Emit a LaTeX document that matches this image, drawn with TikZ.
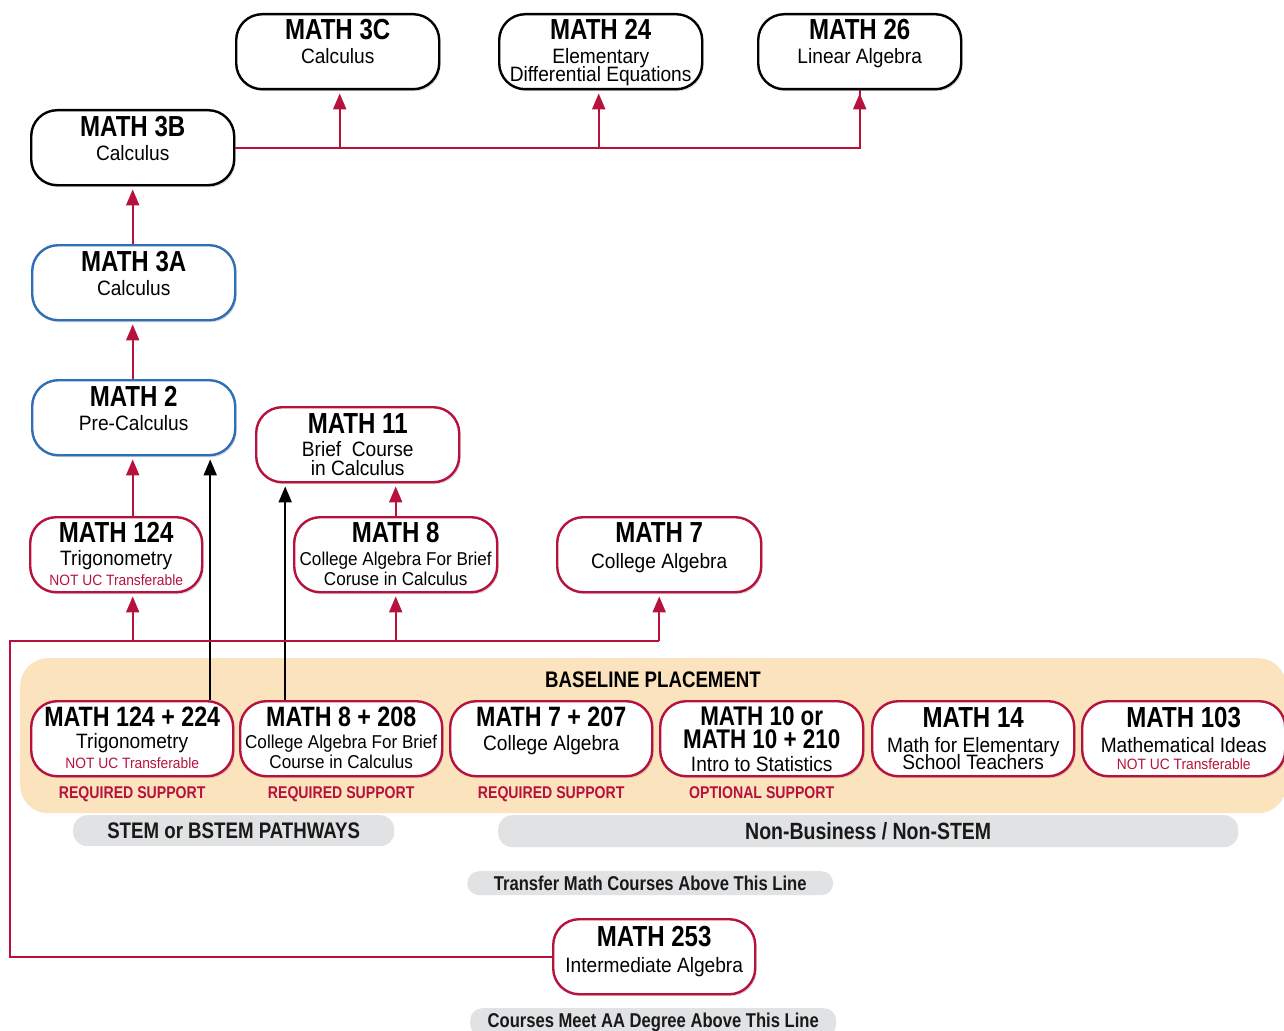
\documentclass[tikz,border=0pt]{standalone}
\usepackage{fontspec}
\setmainfont{Liberation Sans}[FakeStretch=0.83]
\newfontfamily\subfam{Liberation Sans}[FakeStretch=0.92]
\usetikzlibrary{arrows.meta,shadows,calc}
\definecolor{crimson}{RGB}{183,18,62}
\definecolor{bblue}{RGB}{48,110,181}
\definecolor{peach}{RGB}{251,227,190}
\definecolor{pillgray}{RGB}{225,226,228}
\newcommand\fTitle{\fontsize{29}{29}\selectfont\bfseries}
\newcommand\fTitleS{\fontsize{28}{28}\selectfont\bfseries}
\newcommand\fTitleM{\fontsize{27}{27}\selectfont\bfseries}
\newcommand\fSub{\subfam\fontsize{20.8}{20.8}\selectfont}
\newcommand\fSubS{\subfam\fontsize{18.6}{18.6}\selectfont}
\newcommand\fNote{\subfam\fontsize{15}{15}\selectfont\color{crimson}}
\newcommand\fSupp{\fontsize{17}{17}\selectfont\bfseries\color{crimson}}
\newcommand\fBase{\fontsize{22.5}{22.5}\selectfont\bfseries}
\newcommand\fPill{\fontsize{22.5}{22.5}\selectfont\bfseries}
\newcommand\fPillB{\fontsize{23.5}{23.5}\selectfont\bfseries}
\newcommand\fPillS{\fontsize{20}{20}\selectfont\bfseries}
% box: name, left, top, width, colour
\newcommand\cbx[5]{\node[cbox=#5, minimum width=#4pt, anchor=north west] (#1) at (#2,#3) {};}
% text line: box name, suffix, offset from top, font, text
\newcommand\ctx[5]{\node[anchor=base, font=#4, inner sep=0pt] (#1-#2) at ([yshift=-#3pt]#1.north) {#5};}
\tikzset{
  cbox/.style={draw=#1, line width=2.4pt, rounded corners=26pt, minimum height=75pt,
    fill=white, inner sep=0pt,
    drop shadow={opacity=0.3, shadow xshift=1.5pt, shadow yshift=-2pt}},
  redline/.style={draw=crimson, line width=2pt},
  redarrow/.style={redline, -{Triangle[width=13pt,length=16pt]}, shorten >=3pt},
  blackarrow/.style={draw=black, line width=2pt, -{Triangle[width=13pt,length=16pt]}, shorten >=3pt},
  pill/.style={fill=pillgray, rounded corners=14pt, inner sep=0pt, anchor=north west, text=black!90},
}
\begin{document}
\begin{tikzpicture}[x=1pt,y=-1pt]
\useasboundingbox (0,0) rectangle (1284,1030);
% baseline placement background
\node[fill=peach, rounded corners=28pt, minimum width=1266pt, minimum height=155pt, anchor=north west, inner sep=0pt] (bg) at (20,658) {};
\node[anchor=base, font=\fBase, inner sep=0pt] (bgtitle) at (653,687) {BASELINE PLACEMENT};
% pills
\node[pill, minimum width=321pt, minimum height=31pt, font=\fPill] (stem) at (73,815) {STEM or BSTEM PATHWAYS};
\node[pill, minimum width=740pt, minimum height=32pt, font=\fPillB] (nonstem) at (498,815) {Non-Business / Non-STEM};
\node[pill, rounded corners=12pt, minimum width=366pt, minimum height=24pt, font=\fPillS] (transfer) at (467,871) {Transfer Math Courses Above This Line};
\node[pill, rounded corners=12pt, minimum width=366pt, minimum height=28pt, font=\fPillS, anchor=north west] (aa) at (470,1008) {\raisebox{-3pt}{Courses Meet AA Degree Above This Line}};
% boxes
\cbx{m3c}{235}{13}{203}{black}
\cbx{m24}{498}{13}{203}{black}
\cbx{m26}{757}{13}{203}{black}
\cbx{m3b}{30}{109}{203}{black}
\cbx{m3a}{31}{244}{203}{bblue}
\cbx{m2}{31}{379}{203}{bblue}
\cbx{m11}{255}{406}{203}{crimson}
\cbx{m124}{29}{516}{172}{crimson}
\cbx{m8}{293}{516}{203}{crimson}
\cbx{m7}{556}{516}{204}{crimson}
\cbx{m124s}{30}{700}{202}{crimson}
\cbx{m8s}{239}{700}{202}{crimson}
\cbx{m7s}{449}{700}{202}{crimson}
\cbx{m10}{659}{700}{203}{crimson}
\cbx{m14}{871}{700}{202}{crimson}
\cbx{m103}{1081}{700}{203}{crimson}
\cbx{m253}{552}{918}{202}{crimson}
% texts
\ctx{m3c}{t}{27}{\fTitle}{MATH 3C}
\ctx{m3c}{s}{51}{\fSub}{Calculus}
\ctx{m24}{t}{27}{\fTitle}{MATH 24}
\ctx{m24}{s}{51}{\fSub}{Elementary}
\ctx{m24}{u}{69}{\fSub}{Differential Equations}
\ctx{m26}{t}{27}{\fTitle}{MATH 26}
\ctx{m26}{s}{51}{\fSub}{Linear Algebra}
\ctx{m3b}{t}{27}{\fTitle}{MATH 3B}
\ctx{m3b}{s}{51}{\fSub}{Calculus}
\ctx{m3a}{t}{27}{\fTitle}{MATH 3A}
\ctx{m3a}{s}{51}{\fSub}{Calculus}
\ctx{m2}{t}{27}{\fTitle}{MATH 2}
\ctx{m2}{s}{51}{\fSub}{Pre-Calculus}
\ctx{m11}{t}{27}{\fTitle}{MATH 11}
\ctx{m11}{s}{50}{\fSub}{Brief\ \ Course}
\ctx{m11}{u}{69}{\fSub}{in Calculus}
\ctx{m124}{t}{26}{\fTitle}{MATH 124}
\ctx{m124}{s}{49}{\fSub}{Trigonometry}
\ctx{m124}{u}{69}{\fNote}{NOT UC Transferable}
\ctx{m8}{t}{26}{\fTitle}{MATH 8}
\ctx{m8}{s}{49}{\fSubS}{College Algebra For Brief}
\ctx{m8}{u}{69}{\fSubS}{Coruse in Calculus}
\ctx{m7}{t}{26}{\fTitle}{MATH 7}
\ctx{m7}{s}{52}{\fSub}{College Algebra}
\ctx{m124s}{t}{26}{\fTitleS}{MATH 124 + 224}
\ctx{m124s}{s}{48}{\fSub}{Trigonometry}
\ctx{m124s}{u}{68}{\fNote}{NOT UC Transferable}
\ctx{m8s}{t}{26}{\fTitleS}{MATH 8 + 208}
\ctx{m8s}{s}{48}{\fSubS}{College Algebra For Brief}
\ctx{m8s}{u}{68}{\fSubS}{Course in Calculus}
\ctx{m7s}{t}{26}{\fTitleS}{MATH 7 + 207}
\ctx{m7s}{s}{50}{\fSub}{College Algebra}
\ctx{m10}{t}{25}{\fTitleM}{MATH 10 or}
\ctx{m10}{s}{48}{\fTitleM}{MATH 10 + 210}
\ctx{m10}{u}{71}{\fSub}{Intro to Statistics}
\ctx{m14}{t}{27}{\fTitle}{MATH 14}
\ctx{m14}{s}{52}{\fSub}{Math for Elementary}
\ctx{m14}{u}{69}{\fSub}{School Teachers}
\ctx{m103}{t}{27}{\fTitle}{MATH 103}
\ctx{m103}{s}{52}{\fSub}{Mathematical Ideas}
\ctx{m103}{u}{69}{\fNote}{NOT UC Transferable}
\ctx{m253}{t}{28}{\fTitle}{MATH 253}
\ctx{m253}{s}{54}{\fSub}{Intermediate Algebra}
% support labels
\node[anchor=base, font=\fSupp, inner sep=0pt] (r1) at ([yshift=-21pt]m124s.south) {REQUIRED SUPPORT};
\node[anchor=base, font=\fSupp, inner sep=0pt] (r2) at ([yshift=-21pt]m8s.south) {REQUIRED SUPPORT};
\node[anchor=base, font=\fSupp, inner sep=0pt] (r3) at ([yshift=-21pt]m7s.south) {REQUIRED SUPPORT};
\node[anchor=base, font=\fSupp, inner sep=0pt] (r4) at ([yshift=-21pt]m10.south) {OPTIONAL SUPPORT};
% top connectors
\draw[redline] (m3b.east) -| (m26.south);
\draw[redarrow] ([xshift=2pt]m3c.south |- m3b.east) -- ([xshift=2pt]m3c.south);
\draw[redarrow] ([xshift=-2pt]m24.south |- m3b.east) -- ([xshift=-2pt]m24.south);
\draw[redarrow] (m26.south |- m3b.east) -- (m26.south);
% vertical chain
\draw[redarrow] ([xshift=-1pt]m3a.north) -- ([xshift=-1pt]m3a.north |- m3b.south);
\draw[redarrow] ([xshift=-1pt]m2.north) -- ([xshift=-1pt]m2.north |- m3a.south);
\draw[redarrow] ([xshift=-1pt]m2.south |- m124.north) -- ([xshift=-1pt]m2.south);
\draw[redarrow] (m8.north) -- (m8.north |- m11.south);
% black arrows
\draw[blackarrow] ([xshift=78pt]m124s.north) -- ([xshift=78pt]m124s.north |- m2.south);
\draw[blackarrow] ([xshift=-56pt]m8s.north) -- ([xshift=-56pt]m8s.north |- m11.south);
% bottom network
\coordinate (c1) at (10,641);
\draw[redline] (m253.west) -| (c1) -- (c1 -| m7.south);
\draw[redarrow] ([xshift=-1pt]m2.south |- c1) -- ([xshift=-1pt]m2.south |- m124.south);
\draw[redarrow] (m8.south |- c1) -- (m8.south);
\draw[redarrow] (m7.south |- c1) -- (m7.south);
\end{tikzpicture}
\end{document}
